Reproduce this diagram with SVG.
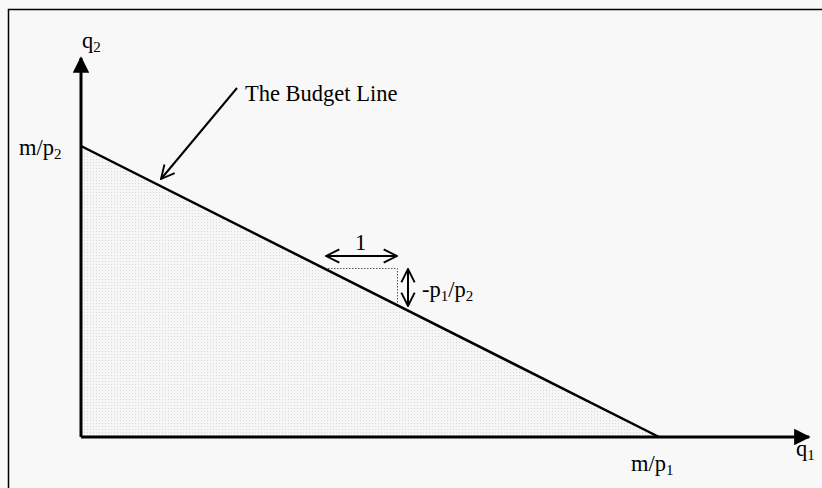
<svg xmlns="http://www.w3.org/2000/svg" width="822" height="488" viewBox="0 0 822 488">
<style>
text{font-family:"Liberation Serif","Times New Roman",serif;fill:#000;font-size:22.5px}
.sub{font-size:15px}
.ax{stroke:#000;stroke-width:3;fill:none}
.bl{stroke:#000;stroke-width:2.5;fill:none}
.thin{stroke:#000;stroke-width:2;fill:none}
.dot{stroke:#555;stroke-width:1;stroke-dasharray:1.5 1.5;fill:none}
</style>
<defs>
<pattern id="dots" width="3" height="3" patternUnits="userSpaceOnUse">
<rect width="3" height="3" fill="#f6f6f6"/>
<rect width="1" height="1" fill="#d8d8d8"/>
</pattern>
<marker id="solid" viewBox="0 0 10 10" refX="9" refY="5" markerWidth="5.5" markerHeight="5.5" markerUnits="strokeWidth" orient="auto-start-reverse">
<path d="M0,0 L10,5 L0,10 z" fill="#000"/>
</marker>
<marker id="open" viewBox="0 0 12 12" refX="11" refY="6" markerWidth="8" markerHeight="8" markerUnits="strokeWidth" orient="auto-start-reverse">
<path d="M1,1 L11,6 L1,11" fill="none" stroke="#000" stroke-width="1.4"/>
</marker>
</defs>
<rect width="822" height="488" fill="#f8f8f8"/>
<rect x="8.5" y="9.5" width="840" height="500" fill="none" stroke="#000" stroke-width="1.5"/>
<g id="region">
<polygon points="81,146 81,437 659,437" fill="url(#dots)"/>
</g>
<g id="connectors">
<line class="ax" x1="81" y1="437" x2="81" y2="58" marker-end="url(#solid)"/>
<line class="ax" x1="81" y1="437" x2="809" y2="437" marker-end="url(#solid)"/>
<line class="bl" x1="81" y1="146" x2="659" y2="437"/>
<line class="thin" x1="237" y1="88" x2="161" y2="179" marker-end="url(#open)"/>
<line class="thin" x1="326" y1="256" x2="397" y2="256" marker-start="url(#open)" marker-end="url(#open)"/>
<line class="thin" x1="408" y1="269" x2="408" y2="306" marker-start="url(#open)" marker-end="url(#open)"/>
<polyline class="dot" points="328,268.5 397.5,268.5 397.5,303"/>
</g>
<g id="q2"><text x="82" y="48">q<tspan class="sub" dy="4">2</tspan></text></g>
<g id="mp2"><text x="19" y="155">m/p<tspan class="sub" dy="4">2</tspan></text></g>
<g id="budget"><text x="245" y="101">The Budget Line</text></g>
<g id="one"><text x="355" y="250">1</text></g>
<g id="slope"><text x="422" y="297">-p<tspan class="sub" dy="4">1</tspan><tspan dy="-4">/p</tspan><tspan class="sub" dy="4">2</tspan></text></g>
<g id="mp1"><text x="631" y="471">m/p<tspan class="sub" dy="4">1</tspan></text></g>
<g id="q1"><text x="796" y="456">q<tspan class="sub" dy="4">1</tspan></text></g>
</svg>
